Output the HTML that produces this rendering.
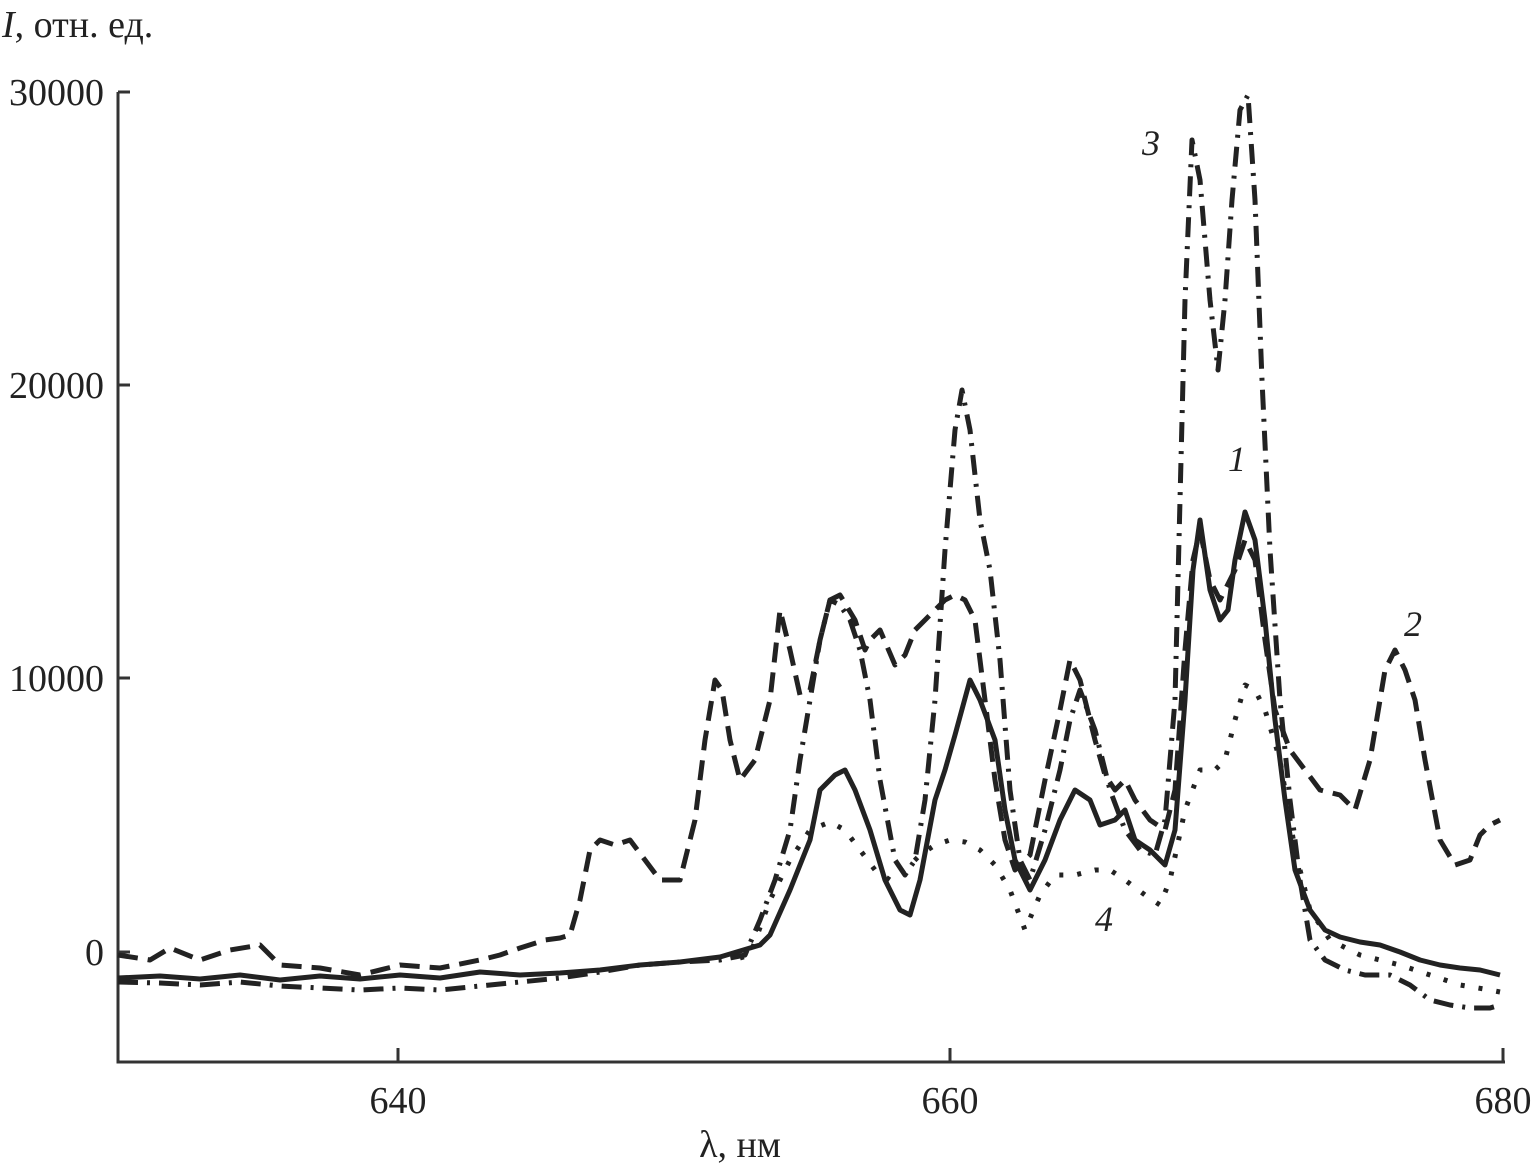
<!DOCTYPE html>
<html><head><meta charset="utf-8"><style>body{margin:0;background:#fff}svg{display:block}</style></head><body>
<svg width="1537" height="1170" xmlns="http://www.w3.org/2000/svg" font-family="Liberation Serif, serif" fill="#222">
<g stroke="#333" stroke-width="3" fill="none">
<path d="M118,92 V1062 H1505"/>
<path d="M118,92 H130 M118,385 H130 M118,678 H130 M118,952 H130 M398,1062 V1048 M950,1062 V1048 M1503,1062 V1048"/>
</g>
<g font-size="38" text-anchor="end">
<text x="104" y="105">30000</text><text x="104" y="398">20000</text><text x="104" y="691">10000</text><text x="104" y="965">0</text>
</g>
<g font-size="38" text-anchor="middle">
<text x="398" y="1113">640</text><text x="950" y="1113">660</text><text x="1503" y="1113">680</text>
<text x="740" y="1157">λ, нм</text>
</g>
<text x="2" y="37" font-size="38"><tspan font-style="italic">I</tspan>, отн. ед.</text>
<g font-size="36" font-style="italic">
<text x="1142" y="155">3</text><text x="1228" y="471">1</text><text x="1404" y="636">2</text><text x="1095" y="931">4</text>
</g>
<g fill="none" stroke="#222" stroke-width="5" stroke-linejoin="round">
<polyline points="118,978 160,976 200,979 240,975 280,980 320,976 360,979 400,975 440,978 480,972 520,975 560,973 600,970 640,965 680,962 720,957 760,945 770,935 790,890 810,840 820,790 835,775 845,770 855,790 870,830 885,880 900,910 910,915 920,880 935,800 945,770 955,735 970,680 980,700 995,740 1005,810 1015,860 1030,890 1045,860 1060,820 1075,790 1090,800 1100,825 1115,820 1125,810 1135,840 1150,850 1165,865 1175,830 1185,700 1193,570 1200,520 1210,590 1220,620 1228,610 1235,560 1245,512 1255,540 1265,620 1275,720 1285,800 1295,870 1310,910 1325,930 1340,937 1360,942 1380,945 1400,952 1420,960 1440,965 1460,968 1480,970 1500,975"/>
<polyline stroke-dasharray="20,10" points="118,955 150,960 170,948 200,960 230,950 260,945 280,965 320,968 360,975 400,965 440,968 480,960 500,955 520,948 545,940 560,938 570,935 580,900 590,850 600,840 615,845 630,840 645,860 660,880 680,880 695,820 705,740 715,680 722,690 730,740 740,780 755,760 770,700 780,610 790,650 800,695 810,690 820,640 830,600 840,595 855,620 865,650 870,640 880,630 895,665 905,655 915,630 925,620 935,610 945,600 955,595 965,600 975,620 985,700 995,780 1005,840 1015,870 1030,855 1045,780 1060,710 1070,660 1080,680 1095,740 1105,775 1115,790 1125,780 1135,800 1150,820 1165,830 1175,790 1185,650 1193,560 1200,530 1210,580 1220,600 1235,570 1245,540 1255,560 1265,640 1275,710 1290,750 1305,770 1320,790 1340,795 1355,810 1370,760 1385,670 1395,650 1405,670 1415,700 1425,760 1440,840 1455,865 1470,860 1480,835 1490,825 1500,820"/>
<polyline stroke-dasharray="20,9,3,9" points="118,982 160,983 200,985 240,982 280,986 320,988 360,990 400,988 440,990 480,986 520,982 560,978 600,972 640,965 680,962 720,960 745,955 760,920 775,880 790,830 800,760 810,700 820,640 830,600 840,605 850,620 860,650 870,700 880,780 895,860 905,875 915,860 925,800 935,700 945,550 955,430 962,390 970,430 980,520 990,570 1000,660 1010,790 1020,860 1030,880 1045,830 1060,770 1070,720 1080,690 1095,730 1110,790 1125,830 1140,850 1155,855 1165,820 1175,700 1180,500 1185,300 1192,140 1200,180 1210,300 1218,370 1225,300 1232,200 1240,110 1248,95 1255,200 1262,380 1270,550 1280,700 1290,800 1300,880 1310,940 1325,960 1345,970 1365,975 1390,975 1410,985 1430,1000 1450,1005 1470,1008 1490,1008 1500,1005"/>
<polyline stroke-dasharray="4,14" points="740,958 750,955 770,900 790,860 810,830 830,822 845,830 860,850 875,870 890,880 905,870 920,855 935,845 950,840 965,842 980,850 995,865 1010,890 1025,930 1040,895 1055,875 1075,875 1095,870 1110,870 1125,880 1145,895 1160,905 1170,880 1185,810 1200,770 1215,770 1225,760 1235,720 1245,685 1255,690 1265,710 1280,760 1295,850 1310,910 1330,940 1360,955 1400,965 1430,975 1460,985 1490,990 1500,992"/>
</g>
</svg>
</body></html>
